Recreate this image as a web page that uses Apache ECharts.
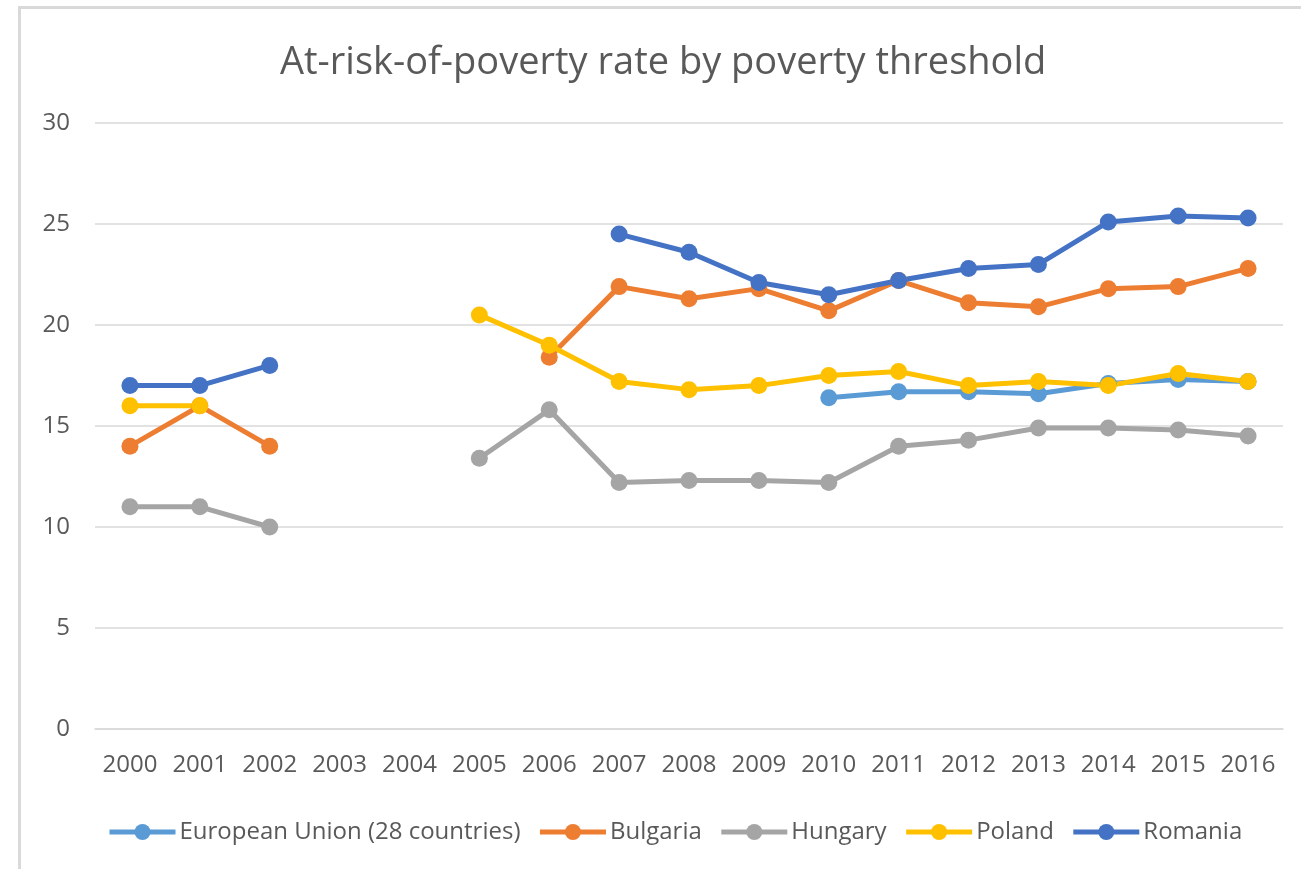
<!DOCTYPE html>
<html>
<head>
<meta charset="utf-8">
<script src="https://cdn.jsdelivr.net/npm/echarts@6/dist/echarts.min.js"></script>
<style>
html,body{margin:0;padding:0;background:#fff;}
#chart{width:1301px;height:869px;position:absolute;left:0;top:0;}
#frame{position:absolute;left:18px;top:6px;width:1290px;height:870px;border-left:3px solid #d9d9d9;border-top:3px solid #d9d9d9;pointer-events:none;}
</style>
</head>
<body>
<div id="chart"></div>
<div id="frame"></div>
<script>
const titleText = 'At-risk-of-poverty rate by poverty threshold';
const years = ['2000','2001','2002','2003','2004','2005','2006','2007','2008','2009','2010','2011','2012','2013','2014','2015','2016'];
const yTicks = [0, 5, 10, 15, 20, 25, 30];
const seriesNames = ['European Union (28 countries)', 'Bulgaria', 'Hungary', 'Poland', 'Romania'];
const euValues       = [null, null, null, null, null, null, null, null, null, null, 16.4, 16.7, 16.7, 16.6, 17.1, 17.3, 17.2];
const bulgariaValues = [14.0, 16.0, 14.0, null, null, null, 18.4, 21.9, 21.3, 21.8, 20.7, 22.2, 21.1, 20.9, 21.8, 21.9, 22.8];
const hungaryValues  = [11.0, 11.0, 10.0, null, null, 13.4, 15.8, 12.2, 12.3, 12.3, 12.2, 14.0, 14.3, 14.9, 14.9, 14.8, 14.5];
const polandValues   = [16.0, 16.0, null, null, null, 20.5, 19.0, 17.2, 16.8, 17.0, 17.5, 17.7, 17.0, 17.2, 17.0, 17.6, 17.2];
const romaniaValues  = [17.0, 17.0, 18.0, null, null, null, null, 24.5, 23.6, 22.1, 21.5, 22.2, 22.8, 23.0, 25.1, 25.4, 25.3];
const colors = ['#5B9BD5', '#ED7D31', '#A5A5A5', '#FFC000', '#4472C4'];

const allValues = [euValues, bulgariaValues, hungaryValues, polandValues, romaniaValues];
const FONT = '"Open Sans", "Noto Sans", sans-serif';

const chart = echarts.init(document.getElementById('chart'), null, {renderer: 'canvas'});
chart.setOption({
  animation: false,
  backgroundColor: '#fff',
  color: colors,
  title: {
    text: titleText,
    left: 280,
    top: 44,
    padding: 0,
    textStyle: {fontFamily: FONT, fontSize: 38, fontWeight: 'normal', color: '#595959'}
  },
  legend: {
    data: seriesNames,
    left: 102,
    top: 815,
    itemWidth: 66,
    itemHeight: 20,
    itemGap: 17,
    lineStyle: {width: 5},
    textStyle: {fontFamily: FONT, fontSize: 24, color: '#595959', padding: [0, 0, 0, -1]}
  },
  grid: {left: 95, right: 18, top: 123, bottom: 140, containLabel: false},
  xAxis: {
    type: 'category',
    data: years,
    boundaryGap: true,
    axisLine: {show: true, lineStyle: {color: '#d9d9d9', width: 1.5}},
    axisTick: {show: false},
    axisLabel: {fontFamily: FONT, fontSize: 24, color: '#595959', margin: 24, interval: 0, hideOverlap: false}
  },
  yAxis: {
    type: 'value',
    min: yTicks[0],
    max: yTicks[yTicks.length - 1],
    interval: 5,
    axisLine: {show: false},
    axisTick: {show: false},
    axisLabel: {fontFamily: FONT, fontSize: 24, color: '#595959', margin: 25},
    splitLine: {lineStyle: {color: '#d9d9d9', width: 1.5}}
  },
  series: seriesNames.map((name, i) => ({
    name: name,
    type: 'line',
    data: allValues[i],
    connectNulls: false,
    symbol: 'circle',
    symbolSize: 17,
    showAllSymbol: true,
    lineStyle: {width: 5, color: colors[i]},
    itemStyle: {color: colors[i]}
  }))
});
</script>
</body>
</html>
